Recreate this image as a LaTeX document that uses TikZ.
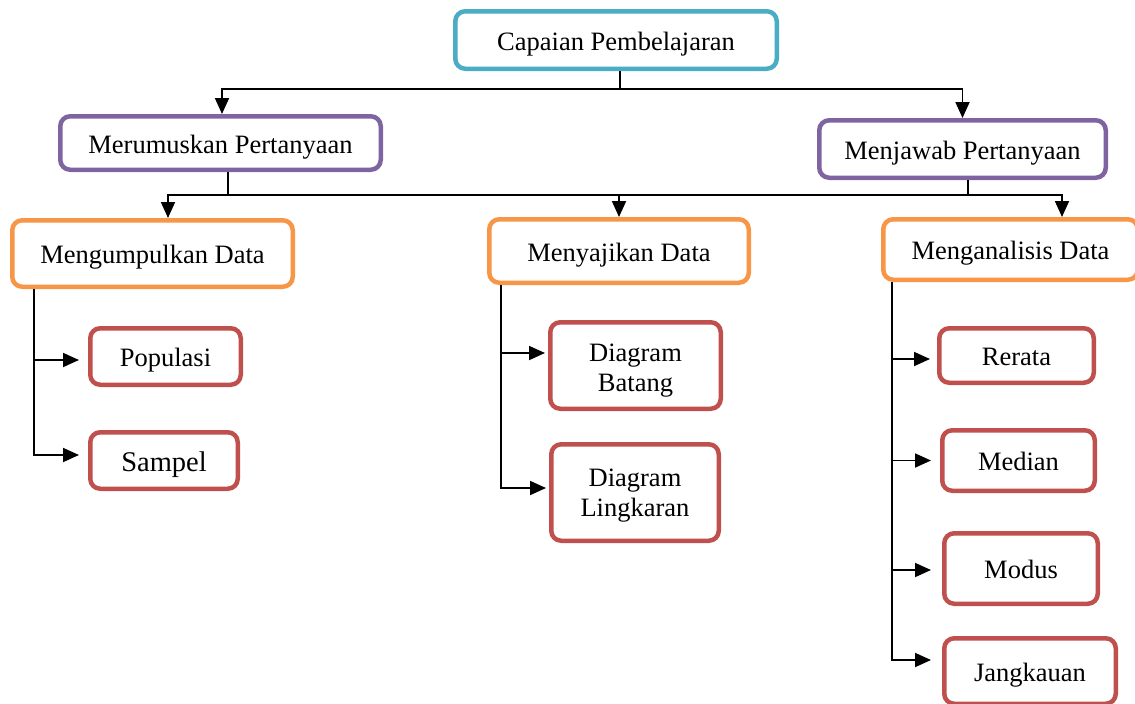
\documentclass[tikz,border=0pt]{standalone}
\usepackage{fontspec}
\setmainfont{Liberation Serif}
\usetikzlibrary{arrows.meta}
\definecolor{cblue}{HTML}{4BACC6}
\definecolor{cpurple}{HTML}{8064A2}
\definecolor{corange}{HTML}{F79646}
\definecolor{cred}{HTML}{C0504D}
\begin{document}
\begin{tikzpicture}[x=1pt,y=-1pt,
  box/.style={draw=#1, line width=4.5pt, rounded corners=10pt, fill=white, align=center, inner sep=0pt, font=\fontsize{26.5}{30}\selectfont, text height=20pt, text depth=0pt},
  twoline/.style={text height=#1, text depth=0pt},
  conn/.style={line width=1.8pt, black},
  arr/.style={conn, -{Triangle[length=16pt,width=14pt]}}]
\useasboundingbox (0,0) rectangle (1135,704);
\clip (0,0) rectangle (1135,704);
% level 0
\node[box=cblue, minimum width=321.5pt, minimum height=57.5pt] (cap) at (616,40) {Capaian Pembelajaran};
% level 1
\node[box=cpurple, minimum width=320.5pt, minimum height=53.5pt] (mer) at (220.5,143) {Merumuskan Pertanyaan};
\node[box=cpurple, minimum width=286.5pt, minimum height=57.5pt] (jaw) at (962.5,149) {Menjawab Pertanyaan};
% level 2
\node[box=corange, minimum width=280.5pt, minimum height=66.5pt] (kum) at (152.5,253.5) {Mengumpulkan Data};
\node[box=corange, minimum width=259.5pt, minimum height=63.5pt] (saj) at (619,251) {Menyajikan Data};
\node[box=corange, minimum width=254.5pt, minimum height=60.5pt] (ana) at (1010.5,249.5) {Menganalisis Data};
% level 3
\node[box=cred, minimum width=150.5pt, minimum height=56.5pt] (pop) at (165.5,356.5) {Populasi};
\node[box=cred, minimum width=147.5pt, minimum height=56.5pt, font=\fontsize{28.5}{32}\selectfont, text height=21pt] (sam) at (164,460.5) {Sampel};
\node[box=cred, twoline=52pt, minimum width=170.5pt, minimum height=86.5pt] (bat) at (635.5,365.5) {Diagram\\Batang};
\node[box=cred, twoline=48pt, minimum width=167.5pt, minimum height=96.5pt] (lin) at (635,492.5) {Diagram\\Lingkaran};
\node[box=cred, minimum width=154.5pt, minimum height=54.5pt] (rer) at (1016.5,355.5) {Rerata};
\node[box=cred, minimum width=152.5pt, minimum height=60.5pt] (med) at (1018.5,460.5) {Median};
\node[box=cred, minimum width=153.5pt, minimum height=70.5pt] (mod) at (1021,568.5) {Modus};
\node[box=cred, minimum width=171.5pt, minimum height=65.5pt] (jan) at (1030,671) {Jangkauan};
% connectors level 0 -> 1
\coordinate (b1) at (620,89);
\draw[conn] (cap.south -| b1) -- (b1);
\draw[arr] (b1) -| ([xshift=1.5pt]mer.north);
\draw[arr] (b1) -| (jaw.north);
% connectors level 1 -> 2
\coordinate (b2) at (228,195);
\coordinate (b3) at (968,195);
\draw[conn] (mer.south -| b2) -- (b2);
\draw[conn] (jaw.south -| b3) -- (b3);
\draw[arr] (b2) -| ([xshift=15.5pt]kum.north);
\draw[arr] (b2) -| (saj.north);
\draw[arr] (b2) -| ([xshift=51.5pt]ana.north);
% connectors level 2 -> 3
\coordinate (v1) at (34,0);
\coordinate (v2) at (501,0);
\coordinate (v3) at (892,0);
\draw[arr, shorten >=9pt] (kum.south -| v1) |- ([yshift=-3.5pt]pop.west);
\draw[arr, shorten >=9pt] (kum.south -| v1) |- ([yshift=5.5pt]sam.west);
\draw[arr, shorten >=3pt] (saj.south -| v2) |- ([yshift=12.5pt]bat.west);
\draw[arr, shorten >=3pt] (saj.south -| v2) |- ([yshift=4.5pt]lin.west);
\draw[arr, shorten >=7pt] (ana.south -| v3) |- ([yshift=-3.5pt]rer.west);
\draw[arr, shorten >=9pt] (ana.south -| v3) |- (med.west);
\draw[arr, shorten >=11pt] (ana.south -| v3) |- ([yshift=-1.5pt]mod.west);
\draw[arr, shorten >=11pt] (ana.south -| v3) |- ([yshift=11pt]jan.west);
\end{tikzpicture}
\end{document}
